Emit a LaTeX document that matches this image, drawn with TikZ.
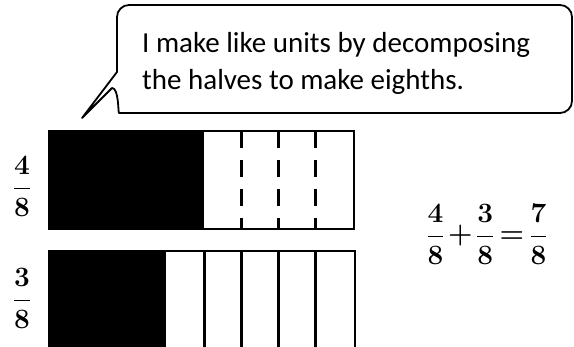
\documentclass[tikz,border=0pt]{standalone}
\usepackage{fix-cm}
\usepackage{fontspec}
\newfontfamily\calib{Carlito}
\begin{document}
\begin{tikzpicture}[x=1pt,y=-1pt,
  callout/.style={line width=1.8pt, line join=round},
  barframe/.style={line width=2.5pt},
  divider/.style={line width=3pt},
  dashdiv/.style={line width=3pt, dash pattern=on 17pt off 12pt},
  speech/.style={font=\calib\fontsize{29}{35}\selectfont, inner sep=0pt, anchor=base west},
  frac/.style={font=\fontsize{28}{34}\selectfont\boldmath, inner sep=0pt, anchor=base}]
\useasboundingbox (0,0) rectangle (574,347);
\clip (0,0) rectangle (574,347);
% callout
\draw[callout] (82,118) -- (117,72) [rounded corners=12pt] -- (117,5) -- (572,5) -- (572,113) -- (131,113)
  [sharp corners] .. controls (118,113) and (119,88) .. (112,88) -- cycle;
\node[speech] (line1) at (142,53) {I make like units by decomposing};
\node[speech] (line2) at (142,90) {the halves to make eighths.};
% top bar: 4/8
\fill[black] (49,131) rectangle (204,229);
\draw[barframe] (49,131) rectangle (354,229);
\foreach \x in {241,278,315} \draw[dashdiv] (\x,131) -- (\x,229);
% bottom bar: 3/8
\fill[black] (49,251) rectangle (166,360);
\draw[barframe] (49,251) rectangle (355,360);
\foreach \x in {204,241,278,315} \draw[divider] (\x,251) -- (\x,360);
% fractions
\node[frac] (fa) at (22,195) {$\displaystyle\frac{4}{8}$};
\node[frac] (fb) at (22,307) {$\displaystyle\frac{3}{8}$};
\node[frac] (eq) at (487,243) {$\displaystyle\frac{4}{8}\mskip-2mu+\mskip-2mu\frac{3}{8}\mskip-2mu=\mskip-2mu\frac{7}{8}$};
\end{tikzpicture}
\end{document}
